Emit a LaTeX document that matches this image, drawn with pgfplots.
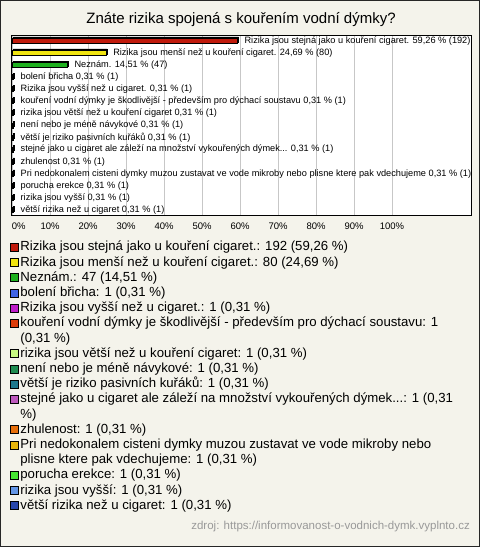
\documentclass[border=0pt]{standalone}
\usepackage{pgfplots}
\pgfplotsset{compat=1.18}
\usepackage{fontspec}
\setmainfont{Liberation Sans}
\definecolor{bg}{RGB}{244,243,235}
\definecolor{c1}{RGB}{192,26,12}
\definecolor{c2}{RGB}{240,228,16}
\definecolor{c3}{RGB}{30,176,30}
\definecolor{c4}{RGB}{64,100,230}
\definecolor{c5}{RGB}{190,30,200}
\definecolor{c6}{RGB}{220,60,10}
\definecolor{c7}{RGB}{200,250,130}
\definecolor{c8}{RGB}{30,140,80}
\definecolor{c9}{RGB}{30,120,140}
\definecolor{c10}{RGB}{190,90,190}
\definecolor{c11}{RGB}{230,110,10}
\definecolor{c12}{RGB}{230,180,10}
\definecolor{c13}{RGB}{70,230,50}
\definecolor{c14}{RGB}{100,150,230}
\definecolor{c15}{RGB}{40,70,170}
\pgfplotsset{
  mybar/.style={xbar, bar shift=0pt, bar width=5pt, draw=black, line width=0.7pt, fill=#1,
    point meta=explicit symbolic, nodes near coords,
    nodes near coords style={anchor=west, inner sep=0pt, xshift=7pt, text=black,
      font=\fontsize{9.2}{10}\selectfont}},
}
\begin{document}
\begin{tikzpicture}[x=1pt,y=1pt]
\useasboundingbox (0,0) rectangle (480,547);
\fill[bg] (0,0) rectangle (480,547);
\draw[black!85, line width=1pt] (0.5,0.5) rectangle (479.5,546.5);
\begin{axis}[
  at={(11pt,332pt)}, anchor=south west, scale only axis,
  width=460pt, height=180pt,
  xmin=-0.3, xmax=120.8, ymin=0.53, ymax=15.41, y dir=reverse,
  axis background/.style={fill=white},
  axis line style={black, line width=0.8pt},
  xtick={0,10,20,30,40,50,60,70,80,90,100},
  xticklabels={\hspace*{13pt}0\%,10\%,20\%,30\%,40\%,50\%,60\%,70\%,80\%,90\%,100\%},
  major tick length=0pt,
  xticklabel style={font=\fontsize{9.5}{11}\selectfont, yshift=-4pt},
  ytick=\empty,
  xmajorgrids, grid style={black!22, line width=0.6pt},
  title={Znáte rizika spojená s kouřením vodní dýmky?},
  title style={font=\fontsize{15}{18}\selectfont, anchor=base, at={(axis description cs:0.5,1)}, yshift=6pt},
  legend style={at={(axis description cs:0,0)}, anchor=north west, xshift=-1pt, yshift=-25pt,
    draw=none, fill=none, inner sep=0pt, row sep=0pt,
    font=\fontsize{13.2}{15.2}\selectfont,
    cells={anchor=base west},
    nodes={inner xsep=1.5pt, inner ysep=0pt, text height=10.64pt, text depth=4.56pt}},
  legend image code/.code={\draw[#1, line width=0.7pt] (0pt,-0.5pt) rectangle (8pt,7.5pt);},
]
% 3D shadow of the bars
\addplot[xbar, bar shift=0pt, bar width=5pt, fill=black, draw=black, line width=0.7pt,
  xshift=1.3pt, yshift=1.3pt, forget plot] coordinates {
  (59.26,1) (24.69,2) (14.51,3) (0.31,4) (0.31,5) (0.31,6) (0.31,7) (0.31,8)
  (0.31,9) (0.31,10) (0.31,11) (0.31,12) (0.31,13) (0.31,14) (0.31,15)};
\addplot[mybar=c1] coordinates {(59.26,1) [Rizika jsou stejná jako u kouření cigaret. 59,26 \% (192)]};
\addlegendentry{Rizika jsou stejná jako u kouření cigaret.: 192 (59,26 \%)}
\addplot[mybar=c2] coordinates {(24.69,2) [Rizika jsou menší než u kouření cigaret. 24,69 \% (80)]};
\addlegendentry{Rizika jsou menší než u kouření cigaret.: 80 (24,69 \%)}
\addplot[mybar=c3] coordinates {(14.51,3) [Neznám. 14,51 \% (47)]};
\addlegendentry{Neznám.: 47 (14,51 \%)}
\addplot[mybar=c4] coordinates {(0.31,4) [bolení břicha 0,31 \% (1)]};
\addlegendentry{bolení břicha: 1 (0,31 \%)}
\addplot[mybar=c5] coordinates {(0.31,5) [Rizika jsou vyšší než u cigaret. 0,31 \% (1)]};
\addlegendentry{Rizika jsou vyšší než u cigaret.: 1 (0,31 \%)}
\addplot[mybar=c6] coordinates {(0.31,6) [kouření vodní dýmky je škodlivější - především pro dýchací soustavu 0,31 \% (1)]};
\addlegendentry{kouření vodní dýmky je škodlivější - především pro dýchací soustavu: 1}
\addlegendimage{empty legend}
\addlegendentry{(0,31 \%)}
\addplot[mybar=c7] coordinates {(0.31,7) [rizika jsou větší než u kouření cigaret 0,31 \% (1)]};
\addlegendentry{rizika jsou větší než u kouření cigaret: 1 (0,31 \%)}
\addplot[mybar=c8] coordinates {(0.31,8) [není nebo je méně návykové 0,31 \% (1)]};
\addlegendentry{není nebo je méně návykové: 1 (0,31 \%)}
\addplot[mybar=c9] coordinates {(0.31,9) [větší je riziko pasivních kuřáků 0,31 \% (1)]};
\addlegendentry{větší je riziko pasivních kuřáků: 1 (0,31 \%)}
\addplot[mybar=c10] coordinates {(0.31,10) [stejné jako u cigaret ale záleží na množství vykouřených dýmek... 0,31 \% (1)]};
\addlegendentry{stejné jako u cigaret ale záleží na množství vykouřených dýmek...: 1 (0,31}
\addlegendimage{empty legend}
\addlegendentry{\%)}
\addplot[mybar=c11] coordinates {(0.31,11) [zhulenost 0,31 \% (1)]};
\addlegendentry{zhulenost: 1 (0,31 \%)}
\addplot[mybar=c12] coordinates {(0.31,12) [Pri nedokonalem cisteni dymky muzou zustavat ve vode mikroby nebo plisne ktere pak vdechujeme 0,31 \% (1)]};
\addlegendentry{Pri nedokonalem cisteni dymky muzou zustavat ve vode mikroby nebo}
\addlegendimage{empty legend}
\addlegendentry{plisne ktere pak vdechujeme: 1 (0,31 \%)}
\addplot[mybar=c13] coordinates {(0.31,13) [porucha erekce 0,31 \% (1)]};
\addlegendentry{porucha erekce: 1 (0,31 \%)}
\addplot[mybar=c14] coordinates {(0.31,14) [rizika jsou vyšší 0,31 \% (1)]};
\addlegendentry{rizika jsou vyšší: 1 (0,31 \%)}
\addplot[mybar=c15] coordinates {(0.31,15) [větší rizika než u cigaret 0,31 \% (1)]};
\addlegendentry{větší rizika než u cigaret: 1 (0,31 \%)}
\end{axis}
\node[anchor=base east, text=black!40, font=\fontsize{11.5}{13}\selectfont, inner sep=0pt] at (470,17) {zdroj: https://informovanost-o-vodnich-dymk.vyplnto.cz};
\end{tikzpicture}
\end{document}
